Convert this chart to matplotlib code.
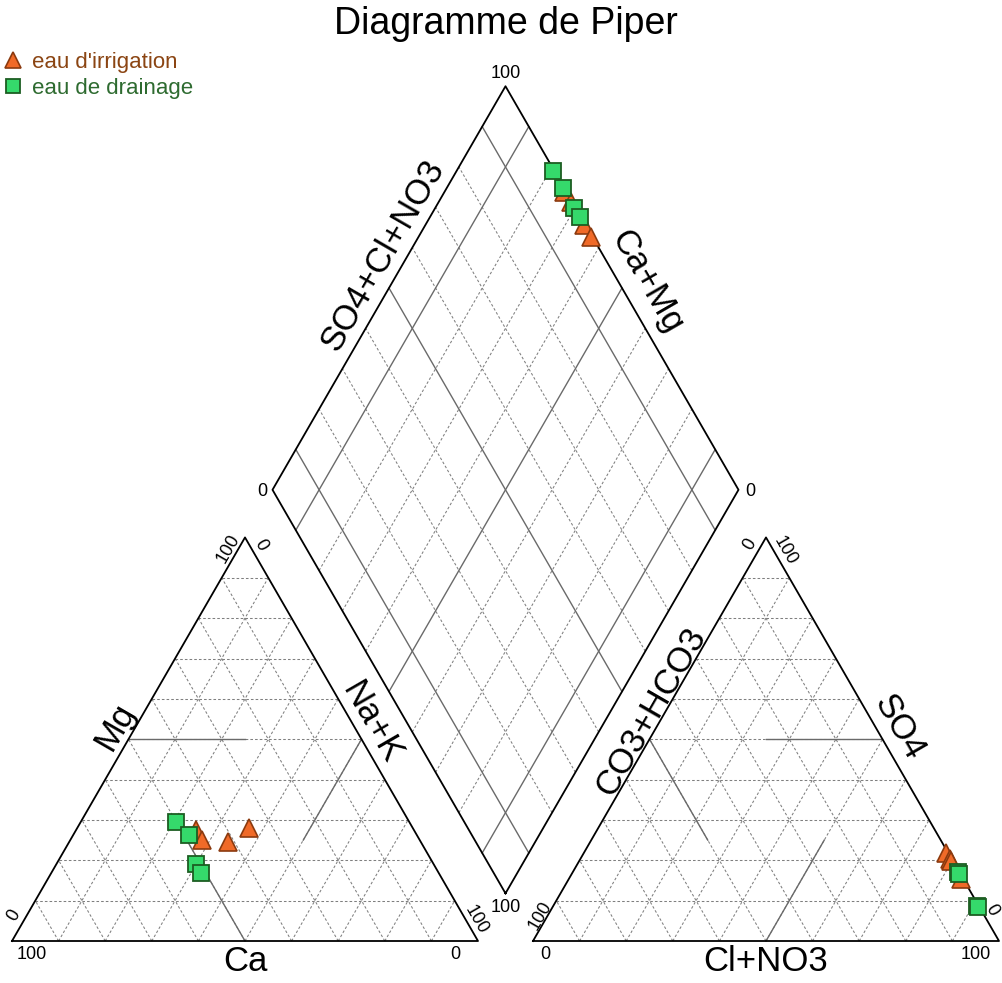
import numpy as np
import matplotlib
matplotlib.use("Agg")
import matplotlib.pyplot as plt

plt.rcParams['font.family'] = ['Liberation Sans', 'DejaVu Sans']

# cations (%) : Ca, Mg, Na+K
irr_ca = [46.8, 46.7, 41.4, 35.1]
irr_mg = [27.5, 25.0, 24.6, 27.9]
irr_na = [25.7, 28.3, 34.0, 37.0]
dra_ca = [50.0, 48.9, 51.0, 51.0]
dra_mg = [29.4, 26.3, 19.2, 16.8]
dra_na = [20.6, 24.8, 29.8, 32.2]

# anions (%) : CO3+HCO3, SO4, Cl+NO3
irr_hco3 = [0.4, 0.4, 0.4, 0.4]
irr_so4 = [21.8, 20.2, 19.8, 15.3]
irr_cl = [77.8, 79.4, 79.8, 84.3]
dra_hco3 = [0.3, 0.3, 0.3, 0.3]
dra_so4 = [17.0, 16.6, 8.7, 8.4]
dra_cl = [82.7, 83.1, 91.0, 91.3]

h = np.sqrt(3) / 2
g = 55 / 466  # gap between the two triangles


def tri(ox, r, t):
    # r = right-vertex fraction, t = top fraction
    r = np.asarray(r, float)
    t = np.asarray(t, float)
    return ox + r + t / 2, t * h


def dia(c, a):
    # c = Ca+Mg fraction, a = SO4+Cl fraction
    c = np.asarray(c, float)
    a = np.asarray(a, float)
    return 1 + g / 2 + 0.5 * a - 0.5 * c, g * h + h * (a + c)


def px(x, y):
    return (x - 12) / 466, (941 - y) / 466


fig = plt.figure(figsize=(10.02, 9.83), dpi=100)
ax = fig.add_axes([0, 0, 1, 1])
ax.set_xlim(-12 / 466, 990 / 466)
ax.set_ylim(-42 / 466, 941 / 466)
ax.set_aspect('equal')
ax.axis('off')

gcol = '#7f7f7f'
gls = (0, (2.5, 2))
scol = '#6a6a6a'
fr = np.arange(1, 10) / 10

# triangles: grid and frames
for ox in [0, 1 + g]:
    for f in fr:
        for p, q in [((0, f), (1 - f, f)), ((f, 0), (f, 1 - f)), ((1 - f, 0), (0, 1 - f))]:
            x, y = tri(ox, [p[0], q[0]], [p[1], q[1]])
            ax.plot(x, y, color=gcol, lw=0.75, ls=gls, zorder=1)
    x, y = tri(ox, [0, 1, 0, 0], [0, 0, 1, 0])
    ax.plot(x, y, color='black', lw=1.3, zorder=3)

# facies lines in the cation triangle
for p, q in [((0, .5), (.25, .5)), ((.5, 0), (.25, .25)), ((.5, .5), (.5, .25))]:
    x, y = tri(0, [p[0], q[0]], [p[1], q[1]])
    ax.plot(x, y, color=scol, lw=1.0, zorder=2)
# facies lines in the anion triangle
for p, q in [((.25, .5), (.5, .5)), ((0, .5), (.25, .25)), ((.5, 0), (.5, .25))]:
    x, y = tri(1 + g, [p[0], q[0]], [p[1], q[1]])
    ax.plot(x, y, color=scol, lw=1.0, zorder=2)

# diamond grid
for f in fr:
    solid = round(f, 1) in (0.1, 0.5, 0.9)
    kw = dict(color=scol, lw=1.0) if solid else dict(color=gcol, lw=0.75, ls=gls)
    x, y = dia([0, 1], [f, f])
    ax.plot(x, y, zorder=2 if solid else 1, **kw)
    x, y = dia([f, f], [0, 1])
    ax.plot(x, y, zorder=2 if solid else 1, **kw)
x, y = dia([0, 1, 1, 0, 0], [0, 0, 1, 1, 0])
ax.plot(x, y, color='black', lw=1.3, zorder=3)

# points
tri_kw = dict(marker='^', ms=13, mfc='#F06A28', mec='#8B3A0F', mew=1.2, ls='none')
sq_kw = dict(marker='s', ms=11, mfc='#35D96B', mec='#1C5E22', mew=1.3, ls='none')

irr_ca, irr_mg, irr_na = [np.array(v) / 100 for v in (irr_ca, irr_mg, irr_na)]
dra_ca, dra_mg, dra_na = [np.array(v) / 100 for v in (dra_ca, dra_mg, dra_na)]
irr_hco3, irr_so4, irr_cl = [np.array(v) / 100 for v in (irr_hco3, irr_so4, irr_cl)]
dra_hco3, dra_so4, dra_cl = [np.array(v) / 100 for v in (dra_hco3, dra_so4, dra_cl)]

ax.plot(*tri(0, irr_na, irr_mg), zorder=5, label="eau d'irrigation", **tri_kw)
ax.plot(*tri(1 + g, irr_cl, irr_so4), zorder=5, **tri_kw)
ax.plot(*dia(irr_ca + irr_mg, irr_so4 + irr_cl), zorder=5, **tri_kw)
ax.plot(*tri(0, dra_na, dra_mg), zorder=6, label="eau de drainage", **sq_kw)
ax.plot(*tri(1 + g, dra_cl, dra_so4), zorder=6, **sq_kw)
ax.plot(*dia(dra_ca + dra_mg, dra_so4 + dra_cl), zorder=6, **sq_kw)

# texts
ax.text(*px(506, 24), "Diagramme de Piper", fontsize=27, ha='center', va='center')

big = 25
ax.text(*px(245, 962), "Ca", fontsize=big, ha='center', va='center')
ax.text(*px(766, 962), "Cl+NO3", fontsize=big, ha='center', va='center')
ax.text(*px(115, 727), "Mg", fontsize=big, rotation=60, ha='center', va='center')
ax.text(*px(371, 722), "Na+K", fontsize=big, rotation=-60, ha='center', va='center')
ax.text(*px(651, 712), "CO3+HCO3", fontsize=big, rotation=60, ha='center', va='center')
ax.text(*px(899, 727), "SO4", fontsize=big, rotation=-60, ha='center', va='center')
ax.text(*px(383, 255), "SO4+Cl+NO3", fontsize=big, rotation=60, ha='center', va='center')
ax.text(*px(647, 282), "Ca+Mg", fontsize=big, rotation=-60, ha='center', va='center')

sm = 13
ticks = [
    (32, 955, "100", 0), (455, 955, "0", 0), (14, 915, "0", 60), (228, 549, "100", 60),
    (261, 545, "0", -60), (476, 920, "100", -60),
    (545, 955, "0", 0), (976, 955, "100", 0), (540, 916, "100", 60), (750, 544, "0", 60),
    (785, 551, "100", -60), (992, 910, "0", -60),
    (506, 73, "100", 0), (262, 492, "0", 0), (750, 492, "0", 0), (506, 908, "100", 0),
]
for x, y, s, r in ticks:
    ax.text(*px(x, y), s, fontsize=sm, rotation=r, ha='center', va='center')

leg = ax.legend(loc='upper left', bbox_to_anchor=(-0.004, 0.956), frameon=False,
                fontsize=16, handlelength=0.7, handletextpad=0.5, borderaxespad=0,
                labelspacing=0.22, markerscale=0.9)
leg.get_texts()[0].set_color('#8B4513')
leg.get_texts()[1].set_color('#2E6B30')

fig.savefig("out.png", dpi=100)
